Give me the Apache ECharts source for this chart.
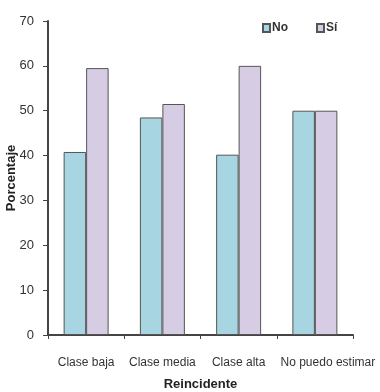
<!DOCTYPE html>
<html><head><meta charset="utf-8">
<script src="https://cdn.jsdelivr.net/npm/echarts@6/dist/echarts.min.js"></script>
<style>html,body{margin:0;padding:0;background:#fff}#c{width:380px;height:392px}</style>
</head><body><div id="c"></div>
<script>
const categories = ["Clase baja", "Clase media", "Clase alta", "No puedo estimar"];
const seriesNames = ["No", "Sí"];
const valuesNo = [40.8, 48.5, 40.2, 50];
const valuesSi = [59.5, 51.5, 60, 50];
const yTicks = [0, 10, 20, 30, 40, 50, 60, 70];

const font = '"Liberation Sans Narrow", "Arial Narrow", "Liberation Sans", sans-serif';
const chart = echarts.init(document.getElementById('c'));
const barStyle = (c) => ({ color: c, borderColor: '#555', borderWidth: 1 });
const catData = categories.map((c, i) => i === categories.length - 1
  ? { value: c, textStyle: { padding: [0, 0, 0, 26] } } : c);
chart.setOption({
  animation: false,
  grid: { left: 48, right: 27, top: 21, bottom: 57, containLabel: false, outerBoundsMode: 'none' },
  legend: {
    top: 17, left: 257, itemGap: 28, itemWidth: 7, itemHeight: 8,
    icon: 'rect',
    textStyle: { fontFamily: font, fontSize: 12, fontWeight: 'bold', color: '#333', padding: [0,0,0,-3] },
    data: seriesNames
  },
  xAxis: {
    type: 'category', data: catData,
    name: 'Reincidente', nameLocation: 'middle', nameGap: 43, nameMoveOverlap: false,
    nameTextStyle: { fontFamily: font, fontSize: 13, fontWeight: 'bold', color: '#222' },
    axisLine: { lineStyle: { color: '#444', width: 2 } },
    axisTick: { show: true, length: 4, lineStyle: { color: '#444' } },
    axisLabel: { fontFamily: font, fontSize: 12, color: '#333', margin: 22, interval: 0, hideOverlap: false }
  },
  yAxis: {
    type: 'value', min: yTicks[0], max: yTicks[yTicks.length - 1], interval: 10,
    name: 'Porcentaje', nameLocation: 'middle', nameGap: 30, nameMoveOverlap: false,
    nameTextStyle: { fontFamily: font, fontSize: 13, fontWeight: 'bold', color: '#222' },
    axisLine: { show: true, lineStyle: { color: '#444', width: 2 } },
    axisTick: { show: true, length: 5, lineStyle: { color: '#444' } },
    axisLabel: { fontFamily: font, fontSize: 13, color: '#333', margin: 14 },
    splitLine: { show: false }
  },
  series: [
    { name: seriesNames[0], type: 'bar', data: valuesNo, barGap: '0%', barCategoryGap: '41%', itemStyle: barStyle('#a7d5e1') },
    { name: seriesNames[1], type: 'bar', data: valuesSi, itemStyle: barStyle('#d6cde4') }
  ]
});
</script></body></html>
